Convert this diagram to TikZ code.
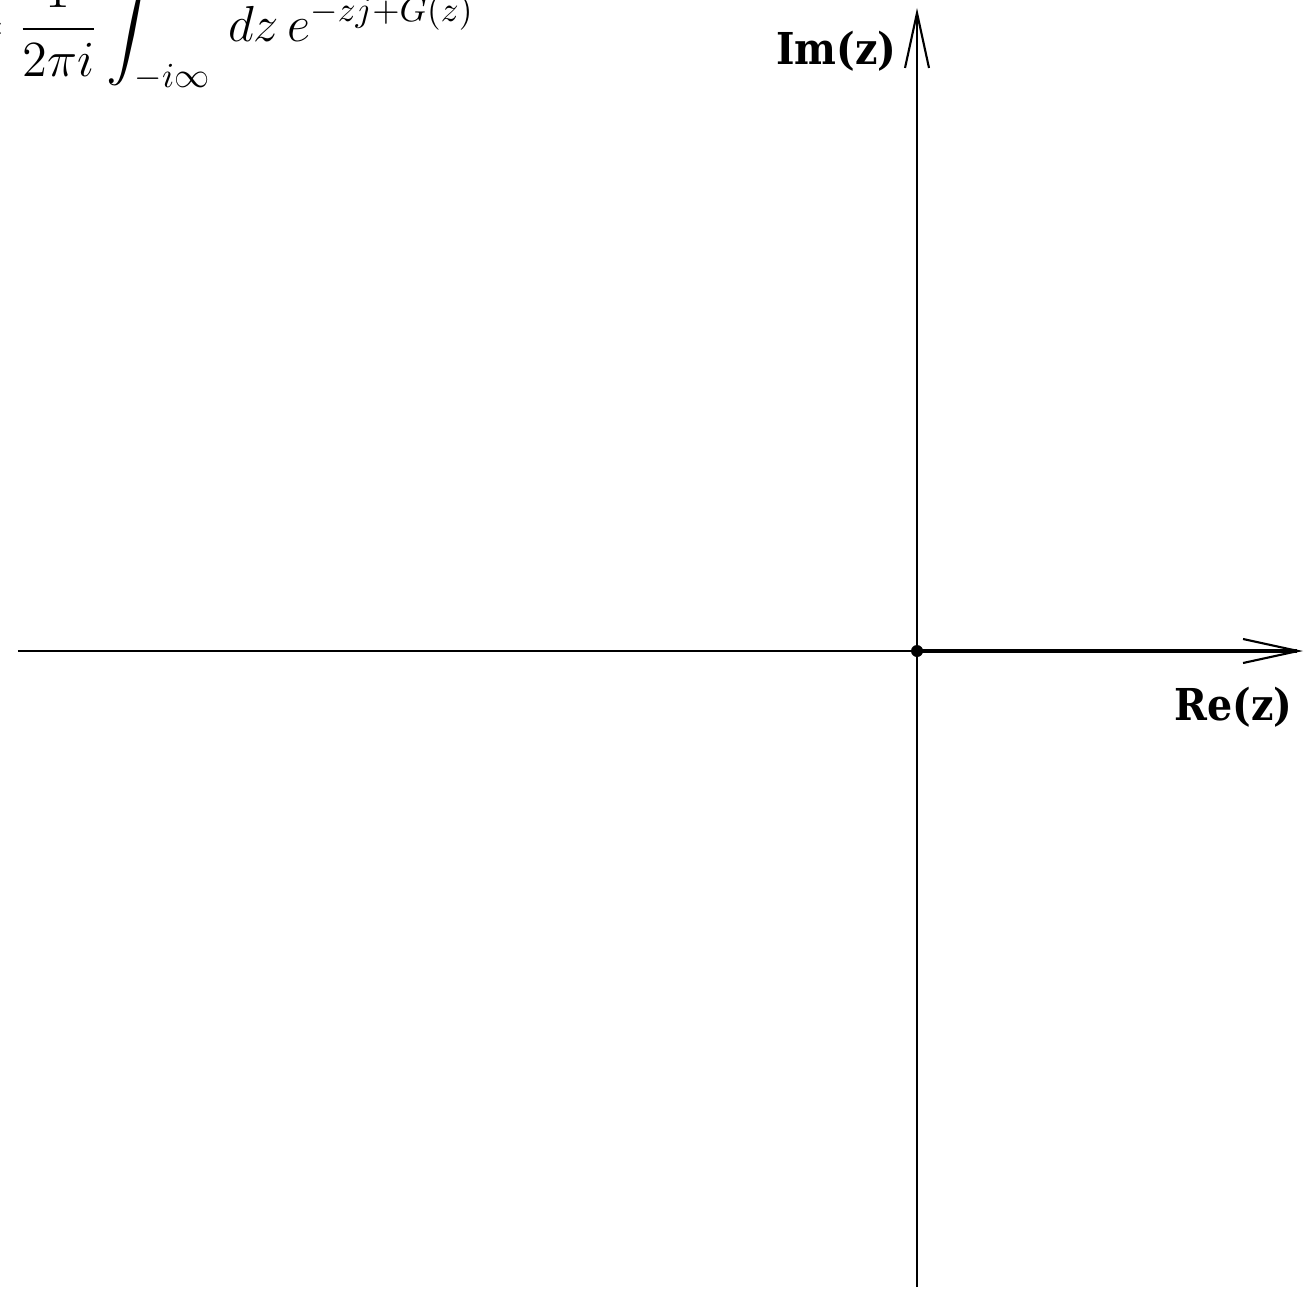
\documentclass[tikz,border=0pt]{standalone}
\usepackage{amsmath}
\usepackage{fontspec}
\newfontfamily\axisfont{DejaVu Serif Condensed}
\usetikzlibrary{arrows.meta,positioning}

\begin{document}
\begin{tikzpicture}[
    thinaxis/.style={line width=0.45pt, draw=black},
    thickaxis/.style={line width=0.9pt, draw=black},
    axistip/.style={-{Straight Barb[length=5.5mm,width=2.4mm,line width=0.6pt]}},
    axislabel/.style={font=\axisfont\bfseries\fontsize{12.5}{14}\selectfont, inner sep=0pt},
    formulabox/.style={font=\fontsize{14.8}{17}\selectfont, inner sep=0pt}
]
\useasboundingbox (0,0) rectangle (13.05,12.89);

% axes end points
\coordinate (origin) at (9.17,6.38);
\coordinate (left) at (0.18,6.38);
\coordinate (right) at (13.03,6.38);
\coordinate (bottom) at (9.17,0.02);
\coordinate (top) at (9.17,12.81);

\draw[thinaxis] (left) -- (origin);
\draw[thickaxis, axistip] (origin) -- (right);
\draw[thinaxis, axistip] (bottom) -- (top);
\fill (origin) circle (0.06);

\node[axislabel, anchor=base east] (imlabel) at (8.97,12.24) {Im(z)};
\node[axislabel, anchor=base east] (relabel) at (12.93,5.69) {Re(z)};

\node[formulabox, anchor=base west] (formula) at (-0.35,12.47)
    {$\displaystyle = \frac{1}{2\pi i}\int_{-i\infty}^{i\infty}\, dz\, e^{-zj+G(z)}$};

\end{tikzpicture}
\end{document}
